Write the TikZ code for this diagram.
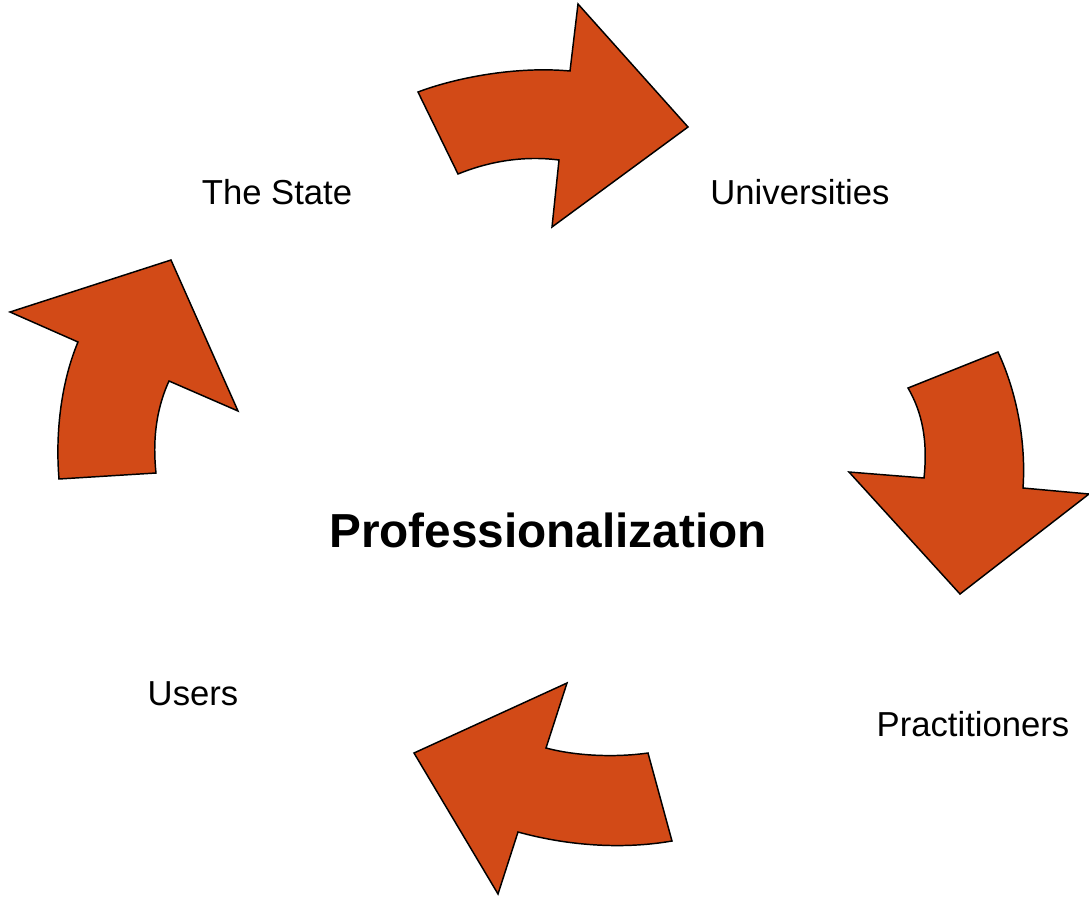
\documentclass[tikz,border=0pt]{standalone}
\usepackage{fontspec}
\setmainfont{Liberation Sans}
\usepackage{tikz}

\definecolor{arroworange}{RGB}{210,74,23}

\begin{document}
\begin{tikzpicture}[x=0.75pt, y=-0.75pt,
        bigarrow/.style = {fill=arroworange, draw=black, line width=1.1pt, line join=miter},
        lbl/.style = {font=\fontsize{26}{30}\selectfont, inner sep=0pt}]
    \useasboundingbox (0,0) rectangle (1089,900);

    % top arrow, towards the universities
    \draw[bigarrow] (458,174) -- (418,92) .. controls (455,78) and (515,66) .. (570,71)
        -- (578,4) -- (688,127) -- (552,227) -- (559,160)
        .. controls (520,155) and (485,163) .. cycle;
    % right arrow
    \draw[bigarrow] (908,388) -- (998,352) .. controls (1018,395) and (1026,445) .. (1023,488)
        -- (1089,494) -- (960,594) -- (849,472) -- (924,478)
        .. controls (928,440) and (922,412) .. cycle;
    % bottom arrow
    \draw[bigarrow] (648,753) -- (672,841) .. controls (620,850) and (565,845) .. (518,832)
        -- (498,894) -- (414,753) -- (567,683) -- (546,748)
        .. controls (580,757) and (620,757) .. cycle;
    % left arrow
    \draw[bigarrow] (59,479) -- (156,473) .. controls (152,435) and (158,405) .. (169,381)
        -- (238,411) -- (171,260) -- (10,312) -- (78,342)
        .. controls (62,380) and (55,430) .. cycle;

    \node[lbl] (state) at (277,192) {The State};
    \node[lbl] (univ) at (800,192) {Universities};
    \node[lbl] (pract) at (973,724) {Practitioners};
    \node[lbl] (users) at (193,694) {Users};
    \node[inner sep=0pt, font=\fontsize{35.8}{40}\selectfont\bfseries] (prof) at (548,530) {Professionalization};
\end{tikzpicture}
\end{document}
